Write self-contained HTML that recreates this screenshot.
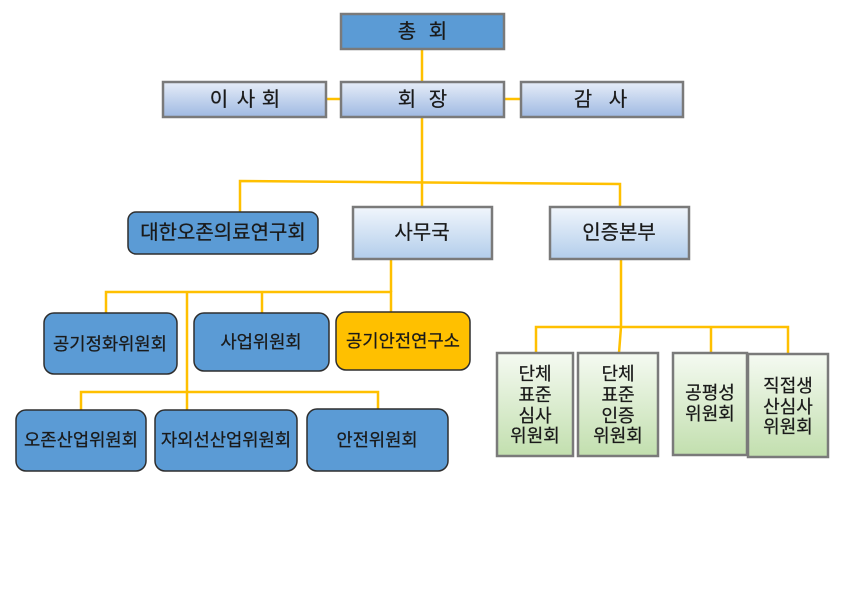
<!DOCTYPE html>
<html><head><meta charset="utf-8"><style>
html,body{margin:0;padding:0;background:#fff;}
svg{display:block;}
text{font-family:"Liberation Sans","Noto Sans CJK KR",sans-serif;fill:#1a1a1a;dominant-baseline:central;text-anchor:middle;stroke:#1a1a1a;stroke-width:0.25;}
</style></head><body>
<svg width="850" height="600" viewBox="0 0 850 600" xmlns="http://www.w3.org/2000/svg">
<defs>
<linearGradient id="gb" x1="0" y1="0" x2="0" y2="1"><stop offset="0" stop-color="#e6edf8"/><stop offset="1" stop-color="#9fb9e2"/></linearGradient>
<linearGradient id="gs" x1="0" y1="0" x2="0" y2="1"><stop offset="0" stop-color="#f1f6fc"/><stop offset="1" stop-color="#b2cdeb"/></linearGradient>
<linearGradient id="gg" x1="0" y1="0" x2="0" y2="1"><stop offset="0" stop-color="#f5faf2"/><stop offset="1" stop-color="#c2dfae"/></linearGradient>
</defs>
<g stroke="#ffc000" stroke-width="2.5" fill="none">
<line x1="422" y1="49" x2="422" y2="82"/>
<line x1="326" y1="99" x2="341" y2="99"/>
<line x1="504" y1="99" x2="521" y2="99"/>
<line x1="422" y1="117" x2="422" y2="207"/>
<polyline points="240,212 240,181 620,184 620,207"/>
<line x1="391" y1="259" x2="391" y2="292"/>
<polyline points="106,313 106,292 391,292 391,312"/>
<line x1="262" y1="292" x2="262" y2="313"/>
<line x1="187" y1="292" x2="187" y2="410"/>
<polyline points="81,410 81,392 378,392 378,409"/>
<polyline points="621,259 621,327 619,353"/>
<polyline points="536,353 536,327 788,327 788,354"/>
<line x1="711" y1="327" x2="711" y2="353"/>
</g>
<!-- top -->
<rect x="341" y="14" width="163" height="35" fill="#5b9bd5" stroke="#7a7a7a" stroke-width="2.5"/>
<text x="407" y="32" font-size="20">총</text><text x="438" y="32" font-size="20">회</text>
<rect x="163" y="82" width="163" height="35" fill="url(#gb)" stroke="#7a7a7a" stroke-width="2.5"/>
<text x="219" y="100" font-size="20">이</text><text x="246" y="100" font-size="20">사</text><text x="271" y="100" font-size="20">회</text>
<rect x="341" y="82" width="163" height="35" fill="url(#gb)" stroke="#7a7a7a" stroke-width="2.5"/>
<text x="407" y="100" font-size="20">회</text><text x="438" y="100" font-size="20">장</text>
<rect x="521" y="82" width="162" height="35" fill="url(#gb)" stroke="#7a7a7a" stroke-width="2.5"/>
<text x="583" y="100" font-size="20">감</text><text x="618" y="100" font-size="20">사</text>
<!-- second -->
<rect x="128" y="212" width="190" height="42" rx="8" fill="#5b9bd5" stroke="#2e2e2e" stroke-width="1.5"/>
<text x="223" y="233" font-size="20">대한오존의료연구회</text>
<rect x="353" y="207" width="139" height="52" fill="url(#gs)" stroke="#7a7a7a" stroke-width="2.5"/>
<text x="422" y="233" font-size="20">사무국</text>
<rect x="550" y="207" width="139" height="52" fill="url(#gs)" stroke="#7a7a7a" stroke-width="2.5"/>
<text x="619" y="233" font-size="20">인증본부</text>
<!-- 사무국 children -->
<rect x="44" y="313" width="133" height="61" rx="10" fill="#5b9bd5" stroke="#2e2e2e" stroke-width="1.5"/>
<text x="110" y="344" font-size="17.7">공기정화위원회</text>
<rect x="194" y="313" width="135" height="58" rx="10" fill="#5b9bd5" stroke="#2e2e2e" stroke-width="1.5"/>
<text x="261" y="342" font-size="17.7">사업위원회</text>
<rect x="336" y="312" width="134" height="58" rx="10" fill="#ffc000" stroke="#2e2e2e" stroke-width="1.5"/>
<text x="403" y="341" font-size="17.7">공기안전연구소</text>
<rect x="16" y="410" width="130" height="61" rx="10" fill="#5b9bd5" stroke="#2e2e2e" stroke-width="1.5"/>
<text x="81" y="440" font-size="17.7">오존산업위원회</text>
<rect x="155" y="410" width="142" height="61" rx="10" fill="#5b9bd5" stroke="#2e2e2e" stroke-width="1.5"/>
<text x="226" y="440" font-size="17.7">자외선산업위원회</text>
<rect x="307" y="409" width="141" height="62" rx="10" fill="#5b9bd5" stroke="#2e2e2e" stroke-width="1.5"/>
<text x="377" y="440" font-size="17.7">안전위원회</text>
<!-- 인증본부 children -->
<rect x="497" y="353" width="76" height="103" fill="url(#gg)" stroke="#7a7a7a" stroke-width="2.5"/>
<text x="535" y="374" font-size="18">단체</text><text x="535" y="395" font-size="18">표준</text><text x="535" y="416" font-size="18">심사</text><text x="535" y="436" font-size="18">위원회</text>
<rect x="578" y="353" width="80" height="103" fill="url(#gg)" stroke="#7a7a7a" stroke-width="2.5"/>
<text x="618" y="374" font-size="18">단체</text><text x="618" y="395" font-size="18">표준</text><text x="618" y="416" font-size="18">인증</text><text x="618" y="436" font-size="18">위원회</text>
<rect x="673" y="353" width="74" height="102" fill="url(#gg)" stroke="#7a7a7a" stroke-width="2.5"/>
<text x="710" y="393" font-size="18">공평성</text><text x="710" y="414" font-size="18">위원회</text>
<rect x="748" y="354" width="80" height="103" fill="url(#gg)" stroke="#7a7a7a" stroke-width="2.5"/>
<text x="788" y="386" font-size="18">직접생</text><text x="788" y="407" font-size="18">산심사</text><text x="788" y="427" font-size="18">위원회</text>
</svg>
</body></html>
